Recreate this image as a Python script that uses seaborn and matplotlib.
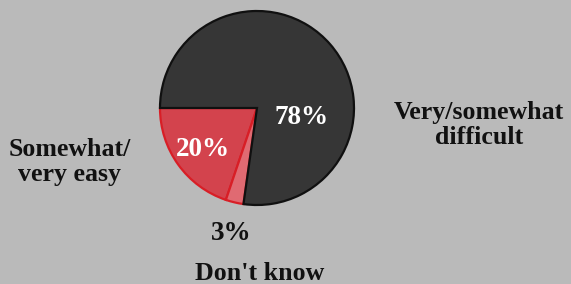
import matplotlib
matplotlib.use("Agg")
import matplotlib.pyplot as plt
import seaborn as sns

# data
categories = ["Somewhat/\nvery easy", "Don't know", "Very/somewhat\ndifficult"]
shares = [20, 3, 78]
pct_labels = ["20%", "3%", "78%"]

slice_colors = ["#d3434d", "#e06a72", "#363636"]
edge_colors = ["#d81e26", "#d81e26", "#101010"]
bg = "#bababa"

sns.set_theme(style="white")
plt.rcParams['font.family'] = ['Liberation Serif', 'DejaVu Serif']

W, H = 571, 284
cx, cy, r = 257, 108, 97   # pie centre / radius in pixels


def px(x, y):
    # pixel position -> data units (1 unit = pie radius)
    return (x - cx) / r, (cy - y) / r


fig = plt.figure(figsize=(W / 100, H / 100), dpi=100)
fig.patch.set_facecolor(bg)
ax = fig.add_axes([0, 0, 1, 1])
ax.set_facecolor(bg)

wedges, _ = ax.pie(shares, colors=slice_colors, startangle=180,
                   counterclock=True, radius=1, center=(0, 0))
for w, ec in zip(wedges, edge_colors):
    w.set_edgecolor(ec)
    w.set_linewidth(1.6)

ax.set_xlim(-cx / r, (W - cx) / r)
ax.set_ylim(-(H - cy) / r, cy / r)
ax.set_aspect("auto")
ax.axis("off")

# percentages
ax.text(*px(203, 149), pct_labels[0], color="white", fontsize=19.5,
        fontweight="bold", ha="center", va="center")
ax.text(*px(231, 234), pct_labels[1], color="#111111", fontsize=19.5,
        fontweight="bold", ha="center", va="center")
ax.text(*px(302, 117), pct_labels[2], color="white", fontsize=19.5,
        fontweight="bold", ha="center", va="center")

# category labels
ax.text(*px(70, 162), categories[0], color="#111111", fontsize=18.6,
        fontweight="bold", ha="center", va="center", linespacing=1.1)
ax.text(*px(260, 274), categories[1], color="#111111", fontsize=18.6,
        fontweight="bold", ha="center", va="center")
ax.text(*px(479, 125), categories[2], color="#111111", fontsize=18.6,
        fontweight="bold", ha="center", va="center", linespacing=1.1)

fig.savefig("out.png", dpi=100, facecolor=bg)
